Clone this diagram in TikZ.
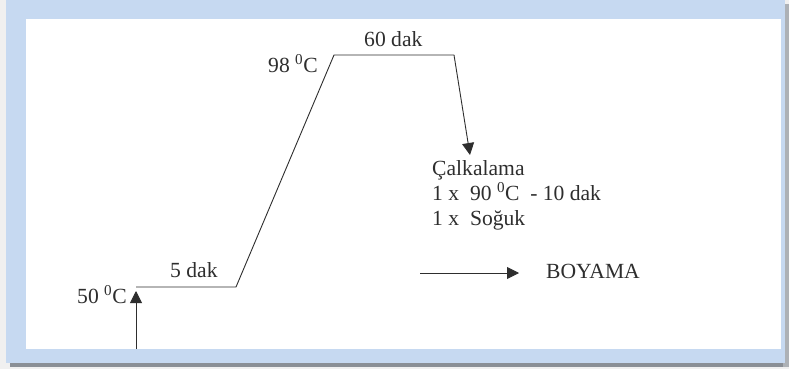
\documentclass[tikz,border=0pt]{standalone}
\usepackage{fontspec}
\setmainfont{Liberation Serif}
\usetikzlibrary{arrows.meta}
\definecolor{frameblue}{HTML}{C6D9F1}
\definecolor{shadowgrey}{HTML}{8A8F96}
\definecolor{ink}{HTML}{2E2E2E}
\tikzset{
  lbl/.style={anchor=base west,inner sep=0pt,text=ink,font=\fontsize{21.6}{25}\selectfont},
  ln/.style={draw=ink,line width=0.9pt},
  arr/.style={ln,-{Triangle[length=12pt,width=12pt]}}
}
\begin{document}
\begin{tikzpicture}[x=1pt,y=-1pt]
\useasboundingbox (0,0) rectangle (789,369);
% frame
\fill[black!6] (0,0) rectangle (789,369);
\fill[shadowgrey] (10,360) rectangle (789,367);
\fill[shadowgrey!70] (783,4) rectangle (789,367);
\fill[frameblue] (6,0) rectangle (785,363);
\fill[white] (26,19) rectangle (781,349);
% coordinates
\coordinate (b0) at (136,349);
\coordinate (a50) at (136,291);
\coordinate (p1) at (136,287);
\coordinate (p2) at (236,287);
\coordinate (p3) at (334,55);
\coordinate (p4) at (454,55);
\coordinate (p5) at (470,155);
\coordinate (q1) at (420,273);
\coordinate (q2) at (519,273);
% connectors
\draw[arr] (b0) -- (a50);
\draw[ln] (p1) -- (p2) -- (p3) -- (p4);
\draw[arr] (p4) -- (p5);
\draw[arr] (q1) -- (q2);
% labels
\node[lbl] (t50) at (77,303) {50 \textsuperscript{0}C};
\node[lbl] (t5) at (170,277) {5 dak};
\node[lbl] (t98) at (268,72) {98 \textsuperscript{0}C};
\node[lbl] (t60) at (364,47) {60 dak};
\node[lbl] (c1) at (432,175) {Çalkalama};
\node[lbl] (c2) at (432,200) {1 x\ \ 90 \textsuperscript{0}C\ \ - 10 dak};
\node[lbl] (c3) at (432,225) {1 x\ \ Soğuk};
\node[lbl] (boy) at (546,278) {BOYAMA};
\end{tikzpicture}
\end{document}
